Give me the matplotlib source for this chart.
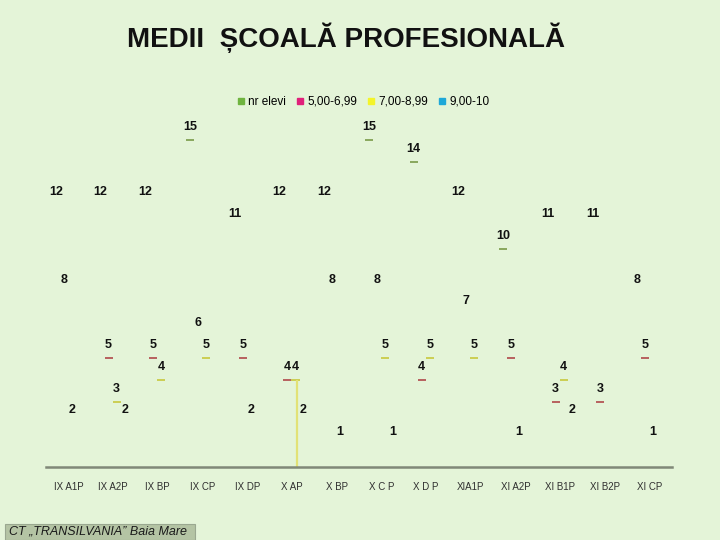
import numpy as np
import matplotlib
matplotlib.use('Agg')
import matplotlib.pyplot as plt
from matplotlib.patches import Rectangle
from matplotlib.lines import Line2D

# categories and the four series
clase = ['IX A1P', 'IX A2P', 'IX BP', 'IX CP', 'IX DP', 'X AP', 'X BP',
         'X C P', 'X D P', 'XIA1P', 'XI A2P', 'XI B1P', 'XI B2P', 'XI CP']
nr_elevi = [12, 12, 12, 15, 11, 12, 12, 15, 14, 12, 10, 11, 11, 8]
m5_699 = [8, 5, 5, 6, 5, 4, 8, 8, 4, 7, 5, 3, 3, 5]
m7_899 = [2, 3, 4, 5, 2, 4, 1, 5, 5, 5, 1, 4, 0, 1]
m9_10 = [0, 2, 0, 0, 0, 2, 0, 1, 0, 0, 0, 2, 0, 0]
serii = ['nr elevi', '5,00-6,99', '7,00-8,99', '9,00-10']

# which bar tops actually show up as a dash in the picture
vizibil = [
    [0, 0, 0, 1, 0, 0, 0, 1, 1, 0, 1, 0, 0, 0],
    [0, 1, 1, 0, 1, 1, 0, 0, 1, 0, 1, 1, 1, 1],
    [0, 1, 1, 1, 0, 1, 0, 1, 1, 1, 0, 1, 0, 0],
    [0, 0, 0, 0, 0, 0, 0, 0, 0, 0, 0, 0, 0, 0],
]

bg = '#e4f4d8'
leg_col = ['#6fb43f', '#e0207a', '#f4f42a', '#1ea8d8']
dash_col = ['#7a9a48', '#b0484a', '#c8c83c', '#40a0c0']

plt.rcParams['font.family'] = ['Liberation Sans', 'DejaVu Sans']

fig = plt.figure(figsize=(7.2, 5.4), dpi=100, facecolor=bg)
ax = fig.add_axes([46/720, 73/540, 626/720, 367/540])
ax.set_facecolor(bg)

x = np.arange(len(clase))
offs = [-0.28, -0.10, 0.08, 0.26]
w = 0.18
date = [nr_elevi, m5_699, m7_899, m9_10]

for k in range(4):
    vals = np.array(date[k])
    xs = x + offs[k]
    ax.bar(xs, vals, width=w, color='none', edgecolor='none')
    for i in range(len(clase)):
        if vals[i] == 0:
            continue
        if vizibil[k][i]:
            ax.hlines(vals[i], xs[i] - w/2, xs[i] + w/2, color=dash_col[k], lw=1.2)
        ax.annotate(str(vals[i]), (xs[i], vals[i]), xytext=(0, 5),
                    textcoords='offset points', ha='center', va='bottom',
                    fontsize=9, fontweight='bold', color='#111111')

# the stray edge line of the X AP yellow bar
ax.vlines(5 + offs[2] + 0.03, 0, m7_899[5], color='#e2e276', lw=1.6)

ax.set_xlim(-0.5, len(clase) - 0.5)
ax.set_ylim(0, 367/21.8)
for s in ['top', 'right', 'left']:
    ax.spines[s].set_visible(False)
ax.spines['bottom'].set_color('#808878')
ax.spines['bottom'].set_linewidth(1.8)
ax.set_yticks([])
ax.set_xticks(x)
ax.set_xticklabels(clase, fontsize=7, color='#303030')
ax.tick_params(axis='x', length=0, pad=11)

handles = [Line2D([], [], marker='s', ls='none', color=c, markersize=5) for c in leg_col]
leg = fig.legend(handles, serii, loc='center', bbox_to_anchor=(363/720, 1 - 102/540),
                 ncol=4, frameon=False, fontsize=8.5, handletextpad=0.2,
                 columnspacing=0.8, handlelength=0.8)

fig.text(346/720, 1 - 38/540, 'MEDII  ȘCOALĂ PROFESIONALĂ', ha='center', va='center',
         fontsize=20, fontweight='bold', color='#111111')

fig.patches.append(Rectangle((5/720, 0), 190/720, 16/540, transform=fig.transFigure,
                             facecolor='#b4c4a4', edgecolor='#9aa890', lw=0.8))
fig.text(9/720, 9/540, 'CT „TRANSILVANIA” Baia Mare', ha='left', va='center',
         fontsize=9, style='italic', color='#1a1a1a')

fig.savefig('out.png', dpi=100, facecolor=bg)
